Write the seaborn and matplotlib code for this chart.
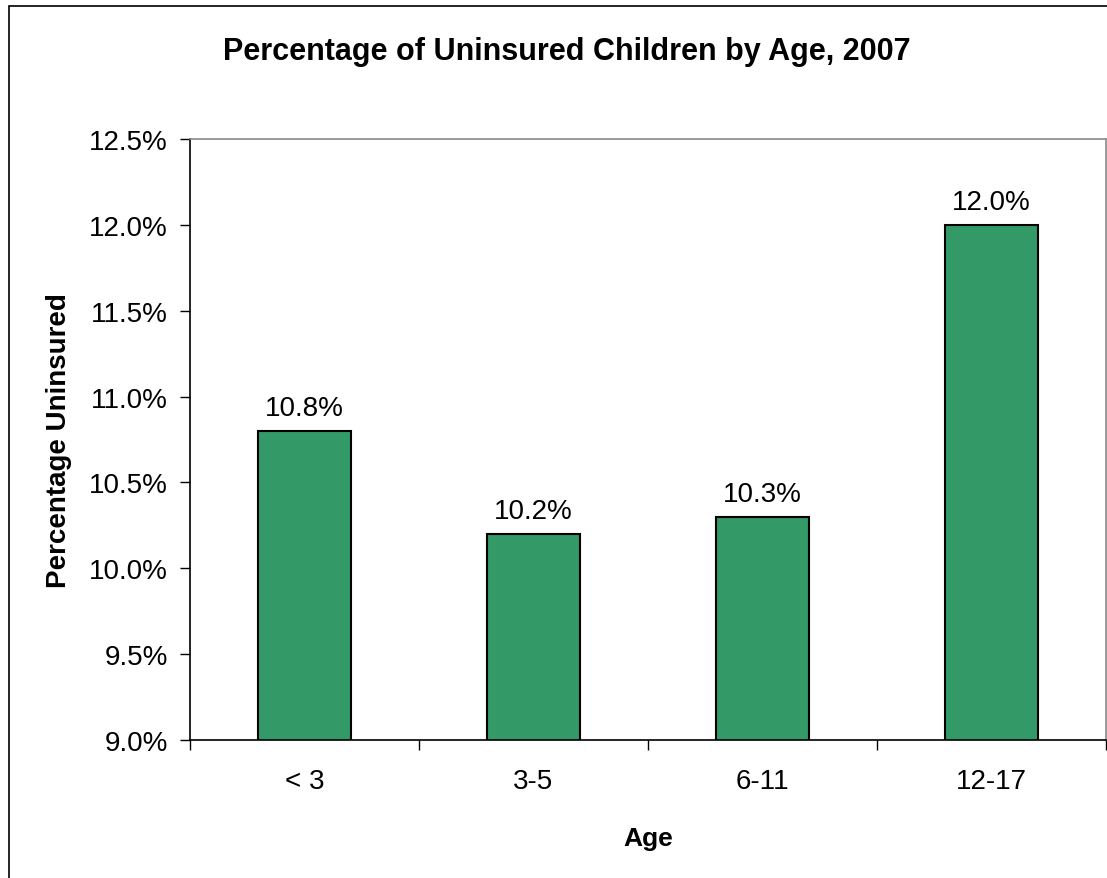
import matplotlib
matplotlib.use("Agg")
import matplotlib.pyplot as plt
import matplotlib.ticker as mticker
from matplotlib.patches import Rectangle
import seaborn as sns
import pandas as pd

# Uninsured share of children by age group, 2007
age_groups = ["< 3", "3-5", "6-11", "12-17"]
pct_uninsured = [10.8, 10.2, 10.3, 12.0]
y_ticks = [9.0, 9.5, 10.0, 10.5, 11.0, 11.5, 12.0, 12.5]

df = pd.DataFrame({"Age": age_groups, "Percentage Uninsured": pct_uninsured})

sns.set_theme(style="white")
plt.rcParams["font.family"] = ["Liberation Sans", "DejaVu Sans"]
plt.rcParams["text.color"] = "black"
plt.rcParams["axes.labelcolor"] = "black"
plt.rcParams["xtick.color"] = "black"
plt.rcParams["ytick.color"] = "black"

fig = plt.figure(figsize=(11.07, 8.79), dpi=100)
ax = fig.add_axes([190 / 1107, 1 - 741 / 879, 916 / 1107, 601 / 879])

sns.barplot(data=df, x="Age", y="Percentage Uninsured", order=age_groups,
            color="#339966", saturation=1, width=0.41,
            edgecolor="black", linewidth=1.5, ax=ax)

ax.set_ylim(9.0, 12.5)
ax.set_xlim(-0.5, len(age_groups) - 0.5)
ax.set_yticks(y_ticks)
ax.yaxis.set_major_formatter(mticker.FuncFormatter(lambda v, p: f"{v:.1f}%"))

# category tick marks sit between the groups; labels stay centered
ax.set_xticks([i - 0.5 for i in range(len(age_groups) + 1)])
ax.set_xticklabels([])
ax.set_xticks(range(len(age_groups)), minor=True)
ax.set_xticklabels(age_groups, minor=True)
ax.tick_params(axis="x", which="minor", length=0, pad=20, labelsize=20)
ax.tick_params(axis="x", which="major", direction="out", length=7, width=1,
               color="black", bottom=True)
ax.tick_params(axis="y", direction="out", length=7, width=1, color="black",
               left=True, labelsize=20, pad=9)

for side in ("top", "right"):
    ax.spines[side].set_color("#888888")
    ax.spines[side].set_linewidth(1.2)
for side in ("left", "bottom"):
    ax.spines[side].set_color("black")
    ax.spines[side].set_linewidth(1.2)

for i, v in enumerate(pct_uninsured):
    ax.text(i, v + 0.09, f"{v:.1f}%", ha="center", va="baseline", fontsize=20)

ax.set_xlabel("Age", fontsize=19, fontweight="bold", labelpad=23)
ax.set_ylabel("Percentage Uninsured", fontsize=20, fontweight="bold", labelpad=12)

fig.text(567 / 1107, 1 - 52 / 879, "Percentage of Uninsured Children by Age, 2007",
         ha="center", va="center", fontsize=22, fontweight="bold")

# outer chart frame
fig.patches.append(Rectangle((9 / 1107, -0.01), 1.02, 1 - 7 / 879 + 0.01,
                             transform=fig.transFigure, fill=False,
                             edgecolor="black", linewidth=1.2))

fig.savefig("out.png", dpi=100)
